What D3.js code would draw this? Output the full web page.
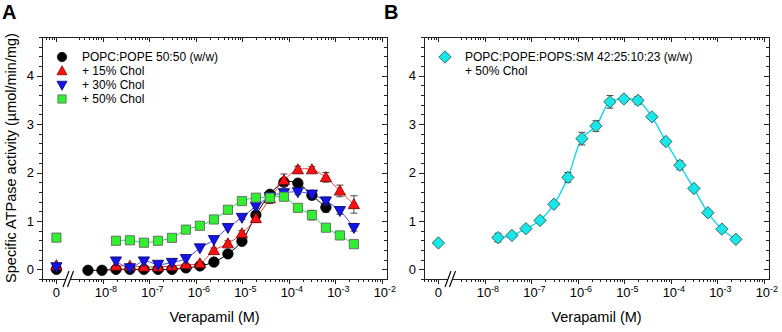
<!DOCTYPE html>
<html><head><meta charset="utf-8">
<script src="https://cdn.jsdelivr.net/npm/d3@7"></script>
<style>body{margin:0;background:#fff} text{font-family:"Liberation Sans",Arial,sans-serif;fill:#000}</style>
</head><body><svg id="c" width="782" height="332"></svg>
<script>
// ---------- data ----------
const zeroConc = 1e-9; // where the "0" (no verapamil) condition is drawn on the log axis
const concBlack = [4.77e-9, 9.54e-9, 1.91e-8, 3.81e-8, 7.63e-8, 1.53e-7, 3.05e-7, 6.1e-7, 1.22e-6, 2.44e-6, 4.88e-6, 9.77e-6, 1.95e-5, 3.91e-5, 7.81e-5, 1.56e-4, 3.13e-4, 6.25e-4];
const concOther = [1.91e-8, 3.81e-8, 7.63e-8, 1.53e-7, 3.05e-7, 6.1e-7, 1.22e-6, 2.44e-6, 4.88e-6, 9.77e-6, 1.95e-5, 3.91e-5, 7.81e-5, 1.56e-4, 3.13e-4, 6.25e-4, 1.25e-3, 2.5e-3];

const blackZero = 0.00, blackZeroErr = 0.02;
const blackVals = [-0.02, -0.02, 0.00, 0.00, 0.00, 0.00, 0.00, 0.03, 0.07, 0.15, 0.32, 0.58, 1.12, 1.55, 1.80, 1.78, 1.53, 1.28];
const blackErr  = [0.02, 0.02, 0.02, 0.02, 0.02, 0.02, 0.02, 0.02, 0.02, 0.03, 0.04, 0.04, 0.08, 0.06, 0.05, 0.05, 0.08, 0.10];

const redZero = 0.08, redZeroErr = 0.02;
const redVals = [0.07, 0.07, 0.05, 0.05, 0.07, 0.10, 0.12, 0.39, 0.53, 0.74, 1.05, 1.46, 1.84, 2.06, 2.06, 1.90, 1.62, 1.34];
const redErr  = [0.02, 0.02, 0.02, 0.02, 0.02, 0.02, 0.03, 0.05, 0.06, 0.06, 0.08, 0.10, 0.13, 0.07, 0.06, 0.10, 0.12, 0.18];

const blueZero = 0.05, blueZeroErr = 0.02;
const blueVals = [0.17, 0.03, 0.17, 0.10, 0.14, 0.22, 0.44, 0.61, 0.86, 1.07, 1.30, 1.50, 1.58, 1.60, 1.55, 1.41, 1.21, 0.86];
const blueErr  = [0.02, 0.02, 0.02, 0.02, 0.02, 0.02, 0.03, 0.03, 0.03, 0.04, 0.04, 0.05, 0.05, 0.05, 0.06, 0.08, 0.07, 0.07];

const greenZero = 0.655, greenZeroErr = 0.03;
const greenVals = [0.59, 0.60, 0.55, 0.59, 0.65, 0.82, 0.90, 1.03, 1.23, 1.41, 1.48, 1.48, 1.50, 1.27, 1.12, 0.86, 0.70, 0.52];
const greenErr  = [0.03, 0.03, 0.03, 0.03, 0.03, 0.03, 0.03, 0.03, 0.03, 0.03, 0.03, 0.03, 0.04, 0.04, 0.10, 0.07, 0.05, 0.03];

const cyanZero = 0.545, cyanZeroErr = 0.03;
const cyanVals = [0.655, 0.70, 0.84, 1.01, 1.345, 1.90, 2.70, 2.96, 3.46, 3.52, 3.49, 3.15, 2.64, 2.15, 1.67, 1.17, 0.83, 0.62];
const cyanErr  = [0.09, 0.04, 0.04, 0.04, 0.04, 0.10, 0.13, 0.11, 0.13, 0.06, 0.08, 0.04, 0.05, 0.09, 0.04, 0.04, 0.04, 0.03];

const legendA = ["POPC:POPE 50:50 (w/w)", "+ 15% Chol", "+ 30% Chol", "+ 50% Chol"];
const legendB = ["POPC:POPE:POPS:SM 42:25:10:23 (w/w)", "+ 50% Chol"];
const xTickVals = [1e-9, 1e-8, 1e-7, 1e-6, 1e-5, 1e-4, 1e-3, 1e-2];
const xTickExp  = [null, "-8", "-7", "-6", "-5", "-4", "-3", "-2"];
const yTickVals = [0, 1, 2, 3, 4];
const panelLabels = ["A", "B"];
const yTitle = "Specific ATPase activity (\u00b5mol/min/mg)";
const xTitle = "Verapamil (M)";

// ---------- layout ----------
const svg = d3.select("#c");
const L = 42, R = 387, T = 37, B = 279;
const x = d3.scaleLog().domain([10 ** -9.31, 10 ** -1.89]).range([L, R]);
const y = d3.scaleLinear().domain([-0.2, 4.8]).range([B, T]);
const panelOffset = 382;

const series = [
  {conc: concBlack, vals: blackVals, err: blackErr, zero: blackZero, zeroErr: blackZeroErr, shape: "circle", fill: "#000000", stroke: "#000000", line: "#000000"},
  {conc: concOther, vals: redVals, err: redErr, zero: redZero, zeroErr: redZeroErr, shape: "up", fill: "#ff1010", stroke: "#700000", line: "#ff3a3a"},
  {conc: concOther, vals: blueVals, err: blueErr, zero: blueZero, zeroErr: blueZeroErr, shape: "down", fill: "#1414e6", stroke: "#00006a", line: "#4a4aff"},
  {conc: concOther, vals: greenVals, err: greenErr, zero: greenZero, zeroErr: greenZeroErr, shape: "square", fill: "#33ee33", stroke: "#5a5a5a", line: "#22dd55"}
];
const seriesB = [
  {conc: concOther, vals: cyanVals, err: cyanErr, zero: cyanZero, zeroErr: cyanZeroErr, shape: "diamond", fill: "#19e6e6", stroke: "#2a4a4a", line: "#12d8e8"}
];

function shapePath(shape) {
  switch (shape) {
    case "circle": return "M5.2,0A5.2,5.2 0 1,1 -5.2,0A5.2,5.2 0 1,1 5.2,0Z";
    case "up": return "M0,-5.8L5.6,4.2L-5.6,4.2Z";
    case "down": return "M0,5.8L5.6,-4.2L-5.6,-4.2Z";
    case "square": return "M-4.6,-4.6H4.6V4.6H-4.6Z";
    case "diamond": return "M0,-6.2L6.2,0L0,6.2L-6.2,0Z";
  }
}

function drawFrame(g, withTitle) {
  // minor x ticks
  const minors = [];
  for (let d = -10; d <= -2; d++) for (let m = 2; m <= 9; m++) {
    const v = m * 10 ** d;
    if (v < x.domain()[0] || v > x.domain()[1]) continue;
    if (v > 1e-9 && v < 2.5e-9) continue; // axis break
    minors.push(v);
  }
  const ax = g.append("g").attr("stroke", "#222").attr("stroke-width", 1).attr("shape-rendering", "crispEdges");
  ax.append("rect").attr("x", L).attr("y", T).attr("width", R - L).attr("height", B - T).attr("fill", "none");
  minors.forEach(v => {
    const px = Math.round(x(v)) + 0.5;
    ax.append("line").attr("x1", px).attr("x2", px).attr("y1", B).attr("y2", B + 3);
    ax.append("line").attr("x1", px).attr("x2", px).attr("y1", T).attr("y2", T + 3);
  });
  xTickVals.forEach(v => {
    const px = Math.round(x(v)) + 0.5;
    ax.append("line").attr("x1", px).attr("x2", px).attr("y1", B).attr("y2", B + 5);
    ax.append("line").attr("x1", px).attr("x2", px).attr("y1", T).attr("y2", T + 5);
  });
  d3.range(-0.2, 4.81, 0.2).forEach(v => {
    const major = Math.abs(v - Math.round(v)) < 1e-6;
    const py = Math.round(y(v)) + 0.5;
    const len = major ? 5 : 3;
    ax.append("line").attr("x1", L - len).attr("x2", L).attr("y1", py).attr("y2", py);
    ax.append("line").attr("x1", R - len).attr("x2", R).attr("y1", py).attr("y2", py);
  });
  // axis break
  g.append("rect").attr("x", 66).attr("y", B - 2).attr("width", 5).attr("height", 5).attr("fill", "#fff");
  g.append("line").attr("x1", 63).attr("y1", 287).attr("x2", 69).attr("y2", 271).attr("stroke", "#000").attr("stroke-width", 1.1);
  g.append("line").attr("x1", 67.5).attr("y1", 287).attr("x2", 73.5).attr("y2", 271).attr("stroke", "#000").attr("stroke-width", 1.1);

  // tick labels
  xTickVals.forEach((v, i) => {
    const t = g.append("text").attr("x", x(v) + (xTickExp[i] ? 3 : 0)).attr("y", 297).attr("text-anchor", "middle").attr("font-size", 13);
    if (xTickExp[i]) {
      t.append("tspan").text("10");
      t.append("tspan").attr("font-size", 9).attr("dy", -5).text(xTickExp[i]);
    } else t.text("0");
  });
  yTickVals.forEach(v => {
    g.append("text").attr("x", 34).attr("y", y(v)).attr("dy", "0.36em").attr("text-anchor", "end").attr("font-size", 13).text(v);
  });
  g.append("text").attr("x", (L + R) / 2).attr("y", 322).attr("text-anchor", "middle").attr("font-size", 14.5).text(xTitle);
  if (withTitle) {
    g.append("text").attr("transform", `translate(16,${(T + B) / 2}) rotate(-90)`).attr("text-anchor", "middle").attr("font-size", 14.5).text(yTitle);
  }
}

function drawSeries(g, sList, lineW) {
  const lineGen = d3.line().x(d => x(d.c)).y(d => y(d.v)).curve(d3.curveCatmullRom.alpha(0.5));
  sList.forEach(s => {
    const pts = s.conc.map((c, i) => ({c, v: s.vals[i], e: s.err[i]}));
    g.append("path").attr("d", lineGen(pts)).attr("fill", "none").attr("stroke", s.line).attr("stroke-width", lineW);
  });
  sList.forEach(s => {
    const pts = s.conc.map((c, i) => ({c, v: s.vals[i], e: s.err[i]}));
    pts.push({c: zeroConc, v: s.zero, e: s.zeroErr});
    const eg = g.append("g").attr("stroke", "#333").attr("stroke-width", 0.9);
    pts.forEach(p => {
      if (p.e < 0.04) return;
      const px = x(p.c);
      eg.append("line").attr("x1", px).attr("x2", px).attr("y1", y(p.v - p.e)).attr("y2", y(p.v + p.e));
      [p.v - p.e, p.v + p.e].forEach(v => eg.append("line").attr("x1", px - 3.5).attr("x2", px + 3.5).attr("y1", y(v)).attr("y2", y(v)));
    });
    g.append("g").selectAll("path").data(pts).join("path")
      .attr("d", shapePath(s.shape))
      .attr("transform", d => `translate(${x(d.c)},${y(d.v)})`)
      .attr("fill", s.fill).attr("stroke", s.stroke).attr("stroke-width", 0.8);
  });
}

// ---------- panel A ----------
const gA = svg.append("g");
drawFrame(gA, true);
drawSeries(gA, series, 1);
legendA.forEach((t, i) => {
  const ly = 57 + i * 14;
  gA.append("path").attr("d", shapePath(series[i].shape)).attr("transform", `translate(62,${ly}) scale(0.9)`)
    .attr("fill", series[i].fill).attr("stroke", series[i].stroke).attr("stroke-width", 0.8);
  gA.append("text").attr("x", 82).attr("y", ly).attr("dy", "0.36em").attr("font-size", 12).text(t);
});
gA.append("text").attr("x", 2).attr("y", 19).attr("font-size", 20).attr("font-weight", "bold").text(panelLabels[0]);

// ---------- panel B ----------
const gB = svg.append("g").attr("transform", `translate(${panelOffset},0)`);
drawFrame(gB, false);
drawSeries(gB, seriesB, 1.4);
gB.append("path").attr("d", shapePath(seriesB[0].shape)).attr("transform", `translate(63,57)`)
  .attr("fill", seriesB[0].fill).attr("stroke", seriesB[0].stroke).attr("stroke-width", 0.8);
legendB.forEach((t, i) => {
  gB.append("text").attr("x", 83).attr("y", 57 + i * 14).attr("dy", "0.36em").attr("font-size", 12).text(t);
});
gB.append("text").attr("x", 2).attr("y", 19).attr("font-size", 20).attr("font-weight", "bold").text(panelLabels[1]);
</script></body></html>
